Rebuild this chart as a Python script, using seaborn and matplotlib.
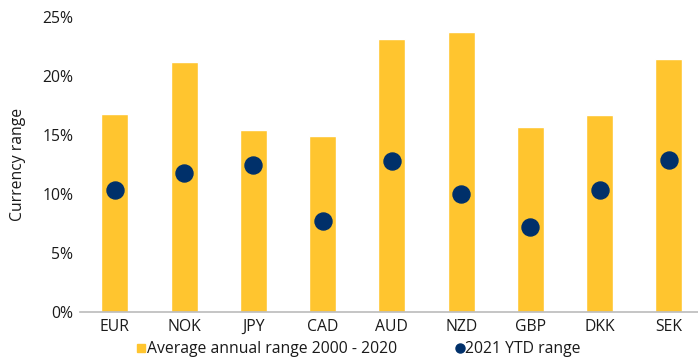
import matplotlib
matplotlib.use("Agg")
import matplotlib.pyplot as plt
import seaborn as sns
import pandas as pd
from matplotlib.ticker import FuncFormatter
from matplotlib.lines import Line2D

currencies = ["EUR", "NOK", "JPY", "CAD", "AUD", "NZD", "GBP", "DKK", "SEK"]
avg_range = [16.8, 21.2, 15.4, 14.9, 23.1, 23.7, 15.7, 16.7, 21.4]
ytd_range = [10.3, 11.8, 12.5, 7.7, 12.8, 10.0, 7.2, 10.3, 12.9]

label_avg = "Average annual range 2000 - 2020"
label_ytd = "2021 YTD range"

sns.set_theme(style="white")
plt.rcParams['font.family'] = ['Open Sans', 'DejaVu Sans']

YELLOW = "#FFC52F"
NAVY = "#00306A"
TEXT = "#1A1A1A"

df = pd.DataFrame({"currency": currencies, "avg": avg_range, "ytd": ytd_range})

fig = plt.figure(figsize=(6.98, 3.62), dpi=100)
ax = fig.add_axes([0.115, 0.138, 0.885, 0.815])

sns.barplot(data=df, x="currency", y="avg", color=YELLOW, width=0.39,
            saturation=1, ax=ax, zorder=2)
ax.scatter(range(len(currencies)), ytd_range, s=150, color=NAVY, zorder=3)

ax.set_ylim(0, 25)
ax.set_xlim(-0.5, 8.42)
ax.set_yticks([0, 5, 10, 15, 20, 25])
ax.yaxis.set_major_formatter(FuncFormatter(lambda v, p: f"{int(v)}%"))
ax.set_xlabel("")
ax.set_ylabel("Currency range", fontsize=11.3, color=TEXT, labelpad=12)
ax.tick_params(axis="both", length=0, labelsize=11.3, colors=TEXT)
ax.tick_params(axis="x", pad=5)
ax.tick_params(axis="y", pad=5)

for s in ["top", "right", "left"]:
    ax.spines[s].set_visible(False)
ax.spines["bottom"].set_color("#BBBBBB")
ax.spines["bottom"].set_linewidth(1.2)

handles = [
    Line2D([0], [0], marker="s", linestyle="none", markersize=5.5,
           markerfacecolor=YELLOW, markeredgecolor=YELLOW, label=label_avg),
    Line2D([0], [0], marker="o", linestyle="none", markersize=6.5,
           markerfacecolor=NAVY, markeredgecolor=NAVY, label=label_ytd),
]
fig.legend(handles=handles, loc="center", bbox_to_anchor=(0.514, 0.035), ncol=2,
           frameon=False, fontsize=11.3, handletextpad=0.05, columnspacing=3.7,
           handlelength=0.6, labelcolor=TEXT)

fig.savefig("out.png", dpi=100)
